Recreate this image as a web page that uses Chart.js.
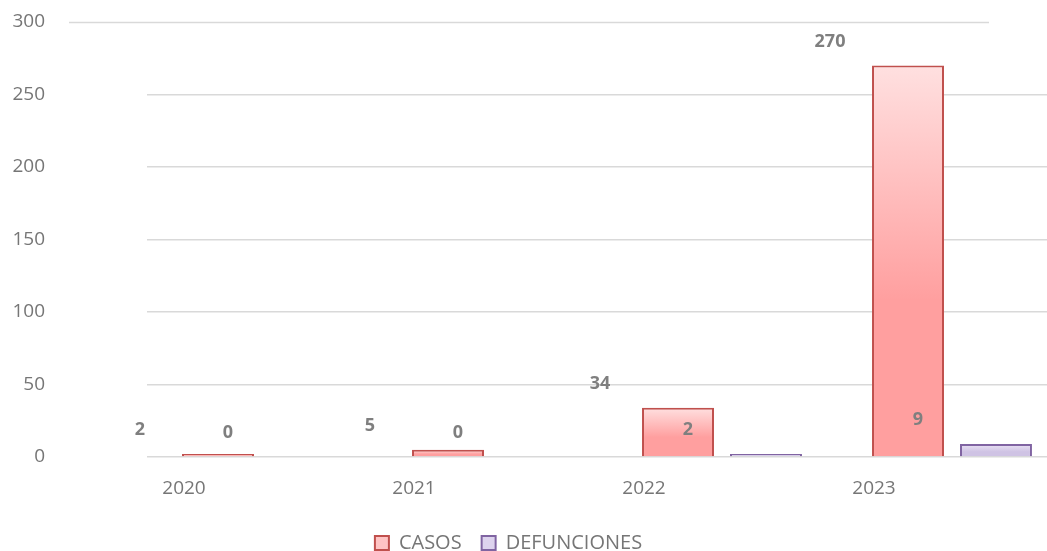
<!DOCTYPE html>
<html>
<head>
<meta charset="utf-8">
<script src="https://cdn.jsdelivr.net/npm/chart.js@4"></script>
<style>
  html, body { margin: 0; padding: 0; background: #fff; overflow: hidden; }
  #wrap { width: 1047px; height: 551px; overflow: hidden; position: relative; }
</style>
</head>
<body>
<div id="wrap"><canvas id="chart" width="1067" height="551"></canvas></div>
<script>
const years = ["2020", "2021", "2022", "2023"];
const casos = [2, 5, 34, 270];
const defunciones = [0, 0, 2, 9];
const yMax = 300;
const yStep = 50;

// labels/top line in the source are shifted left of the bars
const SHIFT = 78;

function barGradient(c, top, bottom) {
  const chart = c.chart;
  if (!chart.chartArea || !c.parsed) return bottom;
  const ys = chart.scales.y;
  const y0 = ys.getPixelForValue(c.parsed.y);
  const y1 = ys.getPixelForValue(0);
  if (y1 - y0 < 1) return bottom;
  const g = chart.ctx.createLinearGradient(0, y0, 0, y1);
  g.addColorStop(0, top);
  g.addColorStop(0.6, bottom);
  g.addColorStop(1, bottom);
  return g;
}

const extras = {
  id: "extras",
  afterLayout(chart) {
    const lg = chart.legend;
    const dy = 538 - (lg.top + lg.bottom) / 2;
    lg.left -= 25; lg.right -= 25;
    lg.top += dy; lg.bottom += dy;
  },
  beforeDatasetsDraw(chart) {
    const { ctx, chartArea } = chart;
    const y = Math.round(chart.scales.y.getPixelForValue(yMax)) + 0.5;
    ctx.save();
    ctx.strokeStyle = "#d9d9d9";
    ctx.lineWidth = 1.5;
    ctx.beginPath();
    ctx.moveTo(chartArea.left - SHIFT, y);
    ctx.lineTo(chartArea.right - SHIFT, y);
    ctx.stroke();
    ctx.restore();
  },
  afterDatasetsDraw(chart) {
    const ctx = chart.ctx;
    ctx.save();
    ctx.font = 'bold 18px "Open Sans"';
    ctx.fillStyle = "#7f7f7f";
    ctx.textAlign = "center";
    ctx.textBaseline = "middle";
    chart.data.datasets.forEach((ds, i) => {
      chart.getDatasetMeta(i).data.forEach((bar, j) => {
        ctx.fillText(ds.data[j], bar.x - SHIFT, bar.y - 24);
      });
    });
    ctx.restore();
  }
};

new Chart(document.getElementById("chart"), {
  type: "bar",
  data: {
    labels: years,
    datasets: [
      {
        label: "CASOS",
        data: casos,
        backgroundColor: c => barGradient(c, "#ffe0e0", "#ff9f9f"),
        borderColor: "#c0504d",
        borderWidth: 2,
        categoryPercentage: 0.765,
        barPercentage: 0.818
      },
      {
        label: "DEFUNCIONES",
        data: defunciones,
        backgroundColor: c => barGradient(c, "#ebe3f5", "#cfc3e4"),
        borderColor: "#8064a2",
        borderWidth: 2,
        categoryPercentage: 0.765,
        barPercentage: 0.818
      }
    ]
  },
  options: {
    responsive: false,
    animation: false,
    layout: { padding: { top: 22, left: 0, right: 0, bottom: 0 } },
    plugins: {
      legend: {
        position: "bottom",
        labels: {
          boxWidth: 14,
          boxHeight: 14,
          padding: 20,
          color: "#767676",
          font: { family: "Open Sans", size: 20 },
          generateLabels(chart) {
            return chart.data.datasets.map((ds, i) => ({
              text: ds.label,
              fillStyle: i === 0 ? "#ffc4c4" : "#ddd3ee",
              strokeStyle: ds.borderColor,
              lineWidth: 2,
              datasetIndex: i,
              fontColor: "#767676"
            }));
          }
        }
      },
      tooltip: { enabled: false }
    },
    scales: {
      x: {
        grid: { display: false },
        border: { display: false },
        ticks: {
          color: "#767676",
          font: { family: "Open Sans", size: 19 },
          labelOffset: -SHIFT,
          padding: 12
        },
        afterFit(scale) { scale.height = 44; }
      },
      y: {
        min: 0,
        max: yMax,
        border: { display: false },
        grid: {
          drawTicks: false,
          lineWidth: 1.5,
          color: c => (c.tick && c.tick.value === yMax ? "rgba(0,0,0,0)" : "#d9d9d9")
        },
        ticks: {
          stepSize: yStep,
          color: "#767676",
          font: { family: "Open Sans", size: 19 },
          padding: 102
        },
        afterFit(scale) {
          scale.width = 147;
          scale.paddingTop = 0;
          scale.paddingBottom = 0;
        }
      }
    }
  },
  plugins: [extras]
});
</script>
</body>
</html>
